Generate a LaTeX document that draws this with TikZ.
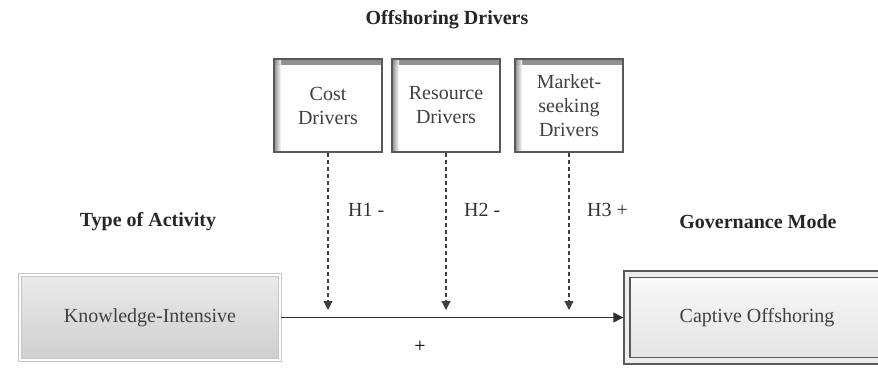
\documentclass[tikz,border=0pt]{standalone}
\usepackage{fontspec}
\setmainfont{Liberation Serif}
\usetikzlibrary{arrows.meta, positioning, shadows}

\begin{document}
\begin{tikzpicture}[
  x=0.5pt, y=-0.5pt,
  head/.style={font=\bfseries, text=black!85},
  driver/.style={rectangle, draw=black!65, line width=0.8pt, fill=white,
    minimum width=54pt, minimum height=46.5pt, inner sep=1pt,
    align=center, text=black!75,
    path picture={
      \shade[top color=black!45, bottom color=white]
        (path picture bounding box.north west) rectangle
        ([yshift=-3pt]path picture bounding box.north east);
      \shade[left color=black!50, right color=white, opacity=0.9]
        (path picture bounding box.north west) rectangle
        ([xshift=3.5pt]path picture bounding box.south west);
    }},
  actbox/.style={rectangle, draw=gray!45, line width=0.5pt, double=white,
    double distance=1.4pt, top color=gray!16, bottom color=gray!38,
    minimum width=130pt, minimum height=42.5pt, text=black!75,
    drop shadow={shadow xshift=0.5pt, shadow yshift=-0.5pt, opacity=0.2}},
  modebox/.style={rectangle, draw=black!65, line width=0.7pt, double=gray!14,
    double distance=2.4pt, top color=gray!4, bottom color=gray!22,
    minimum width=130pt, minimum height=43.3pt, text=black!75},
  hlab/.style={anchor=west, text=black!80},
  link/.style={-{Triangle[length=5pt, width=5pt]}, line width=0.6pt, black!80},
  effect/.style={-{Triangle[length=4.5pt, width=4.5pt]}, line width=0.6pt,
    black!75, dash pattern=on 2pt off 1.5pt},
]
\useasboundingbox (0,0) rectangle (878,369);

% --- headings ---
\node[head] (title) at (447,20) {Offshoring Drivers};
\node[head] (actlab) at (148,222) {Type of Activity};
\node[head] (modelab) at (758,222) {Governance Mode};

% --- drivers ---
\node[driver] (cost) at (328,105.5) {Cost\\Drivers};
\node[driver] (res) at (446,105.5) {Resource\\Drivers};
\node[driver] (mkt) at (569,105.5) {Market-\\seeking\\Drivers};

% --- main relation ---
\node[actbox] (act) at (150,317.5) {Knowledge-Intensive};
\node[modebox] (mode) at (757,317.5) {Captive Offshoring};
\draw[link, shorten >=1.5pt] (act.east) -- (mode.west);
\node (plus) at (420,347) {+};

% --- moderating effects ---
\coordinate (t1) at (cost.south |- 0,310);
\coordinate (t2) at (res.south |- 0,310);
\coordinate (t3) at (mkt.south |- 0,310);
\draw[effect] (cost.south) -- (t1);
\draw[effect] (res.south) -- (t2);
\draw[effect] (mkt.south) -- (t3);
\node[hlab] (h1) at (341,210) {H1 -};
\node[hlab] (h2) at (457,210) {H2 -};
\node[hlab] (h3) at (580,210) {H3 +};

\end{tikzpicture}
\end{document}
